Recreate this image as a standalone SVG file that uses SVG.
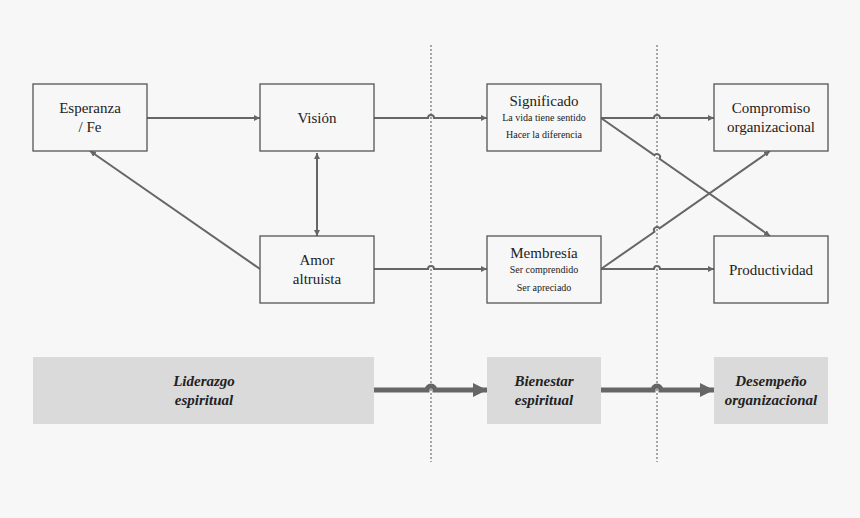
<svg xmlns="http://www.w3.org/2000/svg" width="860" height="518" viewBox="0 0 860 518">
<style>
.b{fill:#f7f7f7;stroke:#555;stroke-width:1.3}
.g{fill:#dadada;stroke:none}
.t{font-family:"Liberation Serif",serif;font-size:15px;fill:#222;text-anchor:middle}
.s{font-family:"Liberation Serif",serif;font-size:10px;fill:#222;text-anchor:middle}
.i{font-family:"Liberation Serif",serif;font-size:15px;font-style:italic;font-weight:bold;fill:#222;text-anchor:middle}
.c{fill:none;stroke:#666;stroke-width:2;marker-end:url(#a)}
.k{fill:none;stroke:#666;stroke-width:5;marker-end:url(#A)}
.d{stroke:#555;stroke-width:1;stroke-dasharray:2,2}
</style>
<defs>
<marker id="a" viewBox="0 0 10 10" refX="10" refY="5" markerWidth="6" markerHeight="6" orient="auto-start-reverse" markerUnits="userSpaceOnUse"><path d="M0,0L10,5L0,10z" fill="#666"/></marker>
<marker id="A" viewBox="0 0 10 10" refX="10" refY="5" markerWidth="14" markerHeight="14" orient="auto" markerUnits="userSpaceOnUse"><path d="M0,0L10,5L0,10z" fill="#666"/></marker>
</defs>
<rect width="860" height="518" fill="#f7f7f7"/>
<line class="d" x1="431" y1="45" x2="431" y2="462"/>
<line class="d" x1="657" y1="45" x2="657" y2="462"/>
<g id="connectors">
<path class="c" d="M147,118H260"/>
<path class="c" d="M374,118H428A3,3 0 0 1 434,118H487"/>
<path class="c" d="M374,269H428A3,3 0 0 1 434,269H487"/>
<path class="c" d="M601,118H654A3,3 0 0 1 660,118H714"/>
<path class="c" d="M601,269H654A3,3 0 0 1 660,269H714"/>
<path class="c" d="M601,118L654.5,155.3A3,3 0 0 1 659.5,158.7L770,236"/>
<path class="c" d="M601,269L654.5,231.7A3,3 0 0 1 659.5,228.3L770,151"/>
<path class="c" d="M317,153V236" style="marker-start:url(#a)"/>
<path class="c" d="M260,269L90,151"/>
<path class="k" d="M374,390H427A4,4 0 0 1 435,390H487"/>
<path class="k" d="M601,390H653A4,4 0 0 1 661,390H714"/>
</g>
<g id="esperanza"><rect class="b" x="33" y="84" width="114" height="67"/><text class="t" x="90" y="113">Esperanza</text><text class="t" x="90" y="132">/ Fe</text></g>
<g id="vision"><rect class="b" x="260" y="84" width="114" height="67"/><text class="t" x="317" y="123">Visión</text></g>
<g id="amor"><rect class="b" x="260" y="236" width="114" height="67"/><text class="t" x="317" y="265">Amor</text><text class="t" x="317" y="284">altruista</text></g>
<g id="significado"><rect class="b" x="487" y="84" width="114" height="67"/><text class="t" x="544" y="106">Significado</text><text class="s" x="544" y="121">La vida tiene sentido</text><text class="s" x="544" y="138">Hacer la diferencia</text></g>
<g id="membresia"><rect class="b" x="487" y="236" width="114" height="67"/><text class="t" x="544" y="258">Membresía</text><text class="s" x="544" y="273">Ser comprendido</text><text class="s" x="544" y="291">Ser apreciado</text></g>
<g id="compromiso"><rect class="b" x="714" y="84" width="114" height="67"/><text class="t" x="771" y="113">Compromiso</text><text class="t" x="771" y="132">organizacional</text></g>
<g id="productividad"><rect class="b" x="714" y="236" width="114" height="67"/><text class="t" x="771" y="275">Productividad</text></g>
<g id="liderazgo"><rect class="g" x="33" y="357" width="341" height="67"/><text class="i" x="204" y="386">Liderazgo</text><text class="i" x="204" y="405">espiritual</text></g>
<g id="bienestar"><rect class="g" x="487" y="357" width="114" height="67"/><text class="i" x="544" y="386">Bienestar</text><text class="i" x="544" y="405">espiritual</text></g>
<g id="desempeno"><rect class="g" x="714" y="357" width="114" height="67"/><text class="i" x="771" y="386">Desempeño</text><text class="i" x="771" y="405">organizacional</text></g>
</svg>
